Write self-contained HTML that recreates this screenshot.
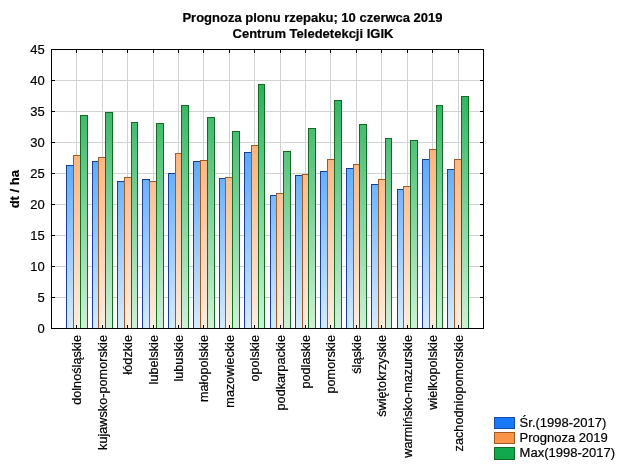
<!DOCTYPE html>
<html><head><meta charset="utf-8"><title>Prognoza plonu rzepaku</title>
<style>
html,body{margin:0;padding:0;background:#fff;}
body{width:624px;height:468px;overflow:hidden;}
svg{display:block;will-change:transform;font-family:"Liberation Sans",sans-serif;}
text{fill:#000;stroke:#000;stroke-width:0.2px;}
</style></head><body>
<svg width="624" height="468" viewBox="0 0 624 468">
<defs>
<linearGradient id="gb" gradientUnits="userSpaceOnUse" x1="0" y1="49" x2="0" y2="328.5"><stop offset="0" stop-color="#0e80fa"/><stop offset="1" stop-color="#d6ebfe"/></linearGradient>
<linearGradient id="go" gradientUnits="userSpaceOnUse" x1="0" y1="49" x2="0" y2="328.5"><stop offset="0" stop-color="#fa9448"/><stop offset="1" stop-color="#feede0"/></linearGradient>
<linearGradient id="gg" gradientUnits="userSpaceOnUse" x1="0" y1="49" x2="0" y2="328.5"><stop offset="0" stop-color="#10aa48"/><stop offset="1" stop-color="#d0f0d6"/></linearGradient>
</defs>
<rect x="0" y="0" width="624" height="468" fill="#ffffff"/>

<g shape-rendering="crispEdges" stroke="#d2d2d2" stroke-width="1">
<line x1="52" y1="297.5" x2="483" y2="297.5"/>
<line x1="52" y1="266.5" x2="483" y2="266.5"/>
<line x1="52" y1="235.5" x2="483" y2="235.5"/>
<line x1="52" y1="204.5" x2="483" y2="204.5"/>
<line x1="52" y1="173.5" x2="483" y2="173.5"/>
<line x1="52" y1="142.5" x2="483" y2="142.5"/>
<line x1="52" y1="111.5" x2="483" y2="111.5"/>
<line x1="52" y1="80.5" x2="483" y2="80.5"/>
<line x1="76.5" y1="50" x2="76.5" y2="328"/>
<line x1="102.5" y1="50" x2="102.5" y2="328"/>
<line x1="127.5" y1="50" x2="127.5" y2="328"/>
<line x1="153.5" y1="50" x2="153.5" y2="328"/>
<line x1="178.5" y1="50" x2="178.5" y2="328"/>
<line x1="203.5" y1="50" x2="203.5" y2="328"/>
<line x1="229.5" y1="50" x2="229.5" y2="328"/>
<line x1="254.5" y1="50" x2="254.5" y2="328"/>
<line x1="280.5" y1="50" x2="280.5" y2="328"/>
<line x1="305.5" y1="50" x2="305.5" y2="328"/>
<line x1="330.5" y1="50" x2="330.5" y2="328"/>
<line x1="356.5" y1="50" x2="356.5" y2="328"/>
<line x1="381.5" y1="50" x2="381.5" y2="328"/>
<line x1="407.5" y1="50" x2="407.5" y2="328"/>
<line x1="432.5" y1="50" x2="432.5" y2="328"/>
<line x1="458.5" y1="50" x2="458.5" y2="328"/>
</g>
<g shape-rendering="crispEdges" stroke-width="1">
<rect x="66.5" y="165.5" width="7" height="163" fill="url(#gb)" stroke="#183f96"/>
<rect x="73.5" y="155.5" width="7" height="173" fill="url(#go)" stroke="#a05a28"/>
<rect x="80.5" y="115.5" width="7" height="213" fill="url(#gg)" stroke="#126c22"/>
<rect x="92.5" y="161.5" width="6" height="167" fill="url(#gb)" stroke="#183f96"/>
<rect x="98.5" y="157.5" width="7" height="171" fill="url(#go)" stroke="#a05a28"/>
<rect x="105.5" y="112.5" width="7" height="216" fill="url(#gg)" stroke="#126c22"/>
<rect x="117.5" y="181.5" width="7" height="147" fill="url(#gb)" stroke="#183f96"/>
<rect x="124.5" y="177.5" width="7" height="151" fill="url(#go)" stroke="#a05a28"/>
<rect x="131.5" y="122.5" width="6" height="206" fill="url(#gg)" stroke="#126c22"/>
<rect x="142.5" y="179.5" width="7" height="149" fill="url(#gb)" stroke="#183f96"/>
<rect x="149.5" y="181.5" width="7" height="147" fill="url(#go)" stroke="#a05a28"/>
<rect x="156.5" y="123.5" width="7" height="205" fill="url(#gg)" stroke="#126c22"/>
<rect x="168.5" y="173.5" width="7" height="155" fill="url(#gb)" stroke="#183f96"/>
<rect x="175.5" y="153.5" width="6" height="175" fill="url(#go)" stroke="#a05a28"/>
<rect x="181.5" y="105.5" width="7" height="223" fill="url(#gg)" stroke="#126c22"/>
<rect x="193.5" y="161.5" width="7" height="167" fill="url(#gb)" stroke="#183f96"/>
<rect x="200.5" y="160.5" width="7" height="168" fill="url(#go)" stroke="#a05a28"/>
<rect x="207.5" y="117.5" width="7" height="211" fill="url(#gg)" stroke="#126c22"/>
<rect x="219.5" y="178.5" width="6" height="150" fill="url(#gb)" stroke="#183f96"/>
<rect x="225.5" y="177.5" width="7" height="151" fill="url(#go)" stroke="#a05a28"/>
<rect x="232.5" y="131.5" width="7" height="197" fill="url(#gg)" stroke="#126c22"/>
<rect x="244.5" y="152.5" width="7" height="176" fill="url(#gb)" stroke="#183f96"/>
<rect x="251.5" y="145.5" width="7" height="183" fill="url(#go)" stroke="#a05a28"/>
<rect x="258.5" y="84.5" width="6" height="244" fill="url(#gg)" stroke="#126c22"/>
<rect x="270.5" y="195.5" width="6" height="133" fill="url(#gb)" stroke="#183f96"/>
<rect x="276.5" y="193.5" width="7" height="135" fill="url(#go)" stroke="#a05a28"/>
<rect x="283.5" y="151.5" width="7" height="177" fill="url(#gg)" stroke="#126c22"/>
<rect x="295.5" y="175.5" width="7" height="153" fill="url(#gb)" stroke="#183f96"/>
<rect x="302.5" y="174.5" width="6" height="154" fill="url(#go)" stroke="#a05a28"/>
<rect x="308.5" y="128.5" width="7" height="200" fill="url(#gg)" stroke="#126c22"/>
<rect x="320.5" y="171.5" width="7" height="157" fill="url(#gb)" stroke="#183f96"/>
<rect x="327.5" y="159.5" width="7" height="169" fill="url(#go)" stroke="#a05a28"/>
<rect x="334.5" y="100.5" width="7" height="228" fill="url(#gg)" stroke="#126c22"/>
<rect x="346.5" y="168.5" width="7" height="160" fill="url(#gb)" stroke="#183f96"/>
<rect x="353.5" y="164.5" width="6" height="164" fill="url(#go)" stroke="#a05a28"/>
<rect x="359.5" y="124.5" width="7" height="204" fill="url(#gg)" stroke="#126c22"/>
<rect x="371.5" y="184.5" width="7" height="144" fill="url(#gb)" stroke="#183f96"/>
<rect x="378.5" y="179.5" width="7" height="149" fill="url(#go)" stroke="#a05a28"/>
<rect x="385.5" y="138.5" width="6" height="190" fill="url(#gg)" stroke="#126c22"/>
<rect x="397.5" y="189.5" width="6" height="139" fill="url(#gb)" stroke="#183f96"/>
<rect x="403.5" y="186.5" width="7" height="142" fill="url(#go)" stroke="#a05a28"/>
<rect x="410.5" y="140.5" width="7" height="188" fill="url(#gg)" stroke="#126c22"/>
<rect x="422.5" y="159.5" width="7" height="169" fill="url(#gb)" stroke="#183f96"/>
<rect x="429.5" y="149.5" width="7" height="179" fill="url(#go)" stroke="#a05a28"/>
<rect x="436.5" y="105.5" width="6" height="223" fill="url(#gg)" stroke="#126c22"/>
<rect x="447.5" y="169.5" width="7" height="159" fill="url(#gb)" stroke="#183f96"/>
<rect x="454.5" y="159.5" width="7" height="169" fill="url(#go)" stroke="#a05a28"/>
<rect x="461.5" y="96.5" width="7" height="232" fill="url(#gg)" stroke="#126c22"/>
</g>
<g shape-rendering="crispEdges" stroke="#000" stroke-width="1" fill="none">
<rect x="51.5" y="49.5" width="432" height="279"/>
<line x1="52" y1="297.5" x2="55" y2="297.5"/>
<line x1="480" y1="297.5" x2="483" y2="297.5"/>
<line x1="52" y1="266.5" x2="55" y2="266.5"/>
<line x1="480" y1="266.5" x2="483" y2="266.5"/>
<line x1="52" y1="235.5" x2="55" y2="235.5"/>
<line x1="480" y1="235.5" x2="483" y2="235.5"/>
<line x1="52" y1="204.5" x2="55" y2="204.5"/>
<line x1="480" y1="204.5" x2="483" y2="204.5"/>
<line x1="52" y1="173.5" x2="55" y2="173.5"/>
<line x1="480" y1="173.5" x2="483" y2="173.5"/>
<line x1="52" y1="142.5" x2="55" y2="142.5"/>
<line x1="480" y1="142.5" x2="483" y2="142.5"/>
<line x1="52" y1="111.5" x2="55" y2="111.5"/>
<line x1="480" y1="111.5" x2="483" y2="111.5"/>
<line x1="52" y1="80.5" x2="55" y2="80.5"/>
<line x1="480" y1="80.5" x2="483" y2="80.5"/>
<line x1="76.5" y1="50" x2="76.5" y2="53"/>
<line x1="76.5" y1="325" x2="76.5" y2="328"/>
<line x1="102.5" y1="50" x2="102.5" y2="53"/>
<line x1="102.5" y1="325" x2="102.5" y2="328"/>
<line x1="127.5" y1="50" x2="127.5" y2="53"/>
<line x1="127.5" y1="325" x2="127.5" y2="328"/>
<line x1="153.5" y1="50" x2="153.5" y2="53"/>
<line x1="153.5" y1="325" x2="153.5" y2="328"/>
<line x1="178.5" y1="50" x2="178.5" y2="53"/>
<line x1="178.5" y1="325" x2="178.5" y2="328"/>
<line x1="203.5" y1="50" x2="203.5" y2="53"/>
<line x1="203.5" y1="325" x2="203.5" y2="328"/>
<line x1="229.5" y1="50" x2="229.5" y2="53"/>
<line x1="229.5" y1="325" x2="229.5" y2="328"/>
<line x1="254.5" y1="50" x2="254.5" y2="53"/>
<line x1="254.5" y1="325" x2="254.5" y2="328"/>
<line x1="280.5" y1="50" x2="280.5" y2="53"/>
<line x1="280.5" y1="325" x2="280.5" y2="328"/>
<line x1="305.5" y1="50" x2="305.5" y2="53"/>
<line x1="305.5" y1="325" x2="305.5" y2="328"/>
<line x1="330.5" y1="50" x2="330.5" y2="53"/>
<line x1="330.5" y1="325" x2="330.5" y2="328"/>
<line x1="356.5" y1="50" x2="356.5" y2="53"/>
<line x1="356.5" y1="325" x2="356.5" y2="328"/>
<line x1="381.5" y1="50" x2="381.5" y2="53"/>
<line x1="381.5" y1="325" x2="381.5" y2="328"/>
<line x1="407.5" y1="50" x2="407.5" y2="53"/>
<line x1="407.5" y1="325" x2="407.5" y2="328"/>
<line x1="432.5" y1="50" x2="432.5" y2="53"/>
<line x1="432.5" y1="325" x2="432.5" y2="328"/>
<line x1="458.5" y1="50" x2="458.5" y2="53"/>
<line x1="458.5" y1="325" x2="458.5" y2="328"/>
</g>
<g font-weight="bold" font-size="13px" text-anchor="middle" stroke-width="0.08"><text x="312.5" y="22">Prognoza plonu rzepaku; 10 czerwca 2019</text><text x="313" y="38">Centrum Teledetekcji IGIK</text></g>
<g font-size="13px" text-anchor="end">
<text x="44.8" y="333.1">0</text>
<text x="44.8" y="302.1">5</text>
<text x="44.8" y="271.1">10</text>
<text x="44.8" y="240.1">15</text>
<text x="44.8" y="209.1">20</text>
<text x="44.8" y="178.1">25</text>
<text x="44.8" y="147.1">30</text>
<text x="44.8" y="116.1">35</text>
<text x="44.8" y="85.1">40</text>
<text x="44.8" y="54.1">45</text>
</g>
<text font-weight="bold" font-size="13px" text-anchor="middle" stroke-width="0.08" transform="translate(18.8,189.2) rotate(-90)">dt / ha</text>
<g font-size="12.7px" text-anchor="end">
<text transform="translate(80.5,335) rotate(-90)">dolnośląskie</text>
<text transform="translate(106.5,335) rotate(-90)">kujawsko-pomorskie</text>
<text transform="translate(131.5,335) rotate(-90)">łódzkie</text>
<text transform="translate(157.5,335) rotate(-90)">lubelskie</text>
<text transform="translate(182.5,335) rotate(-90)">lubuskie</text>
<text transform="translate(207.5,335) rotate(-90)">małopolskie</text>
<text transform="translate(233.5,335) rotate(-90)">mazowieckie</text>
<text transform="translate(258.5,335) rotate(-90)">opolskie</text>
<text transform="translate(284.5,335) rotate(-90)">podkarpackie</text>
<text transform="translate(309.5,335) rotate(-90)">podlaskie</text>
<text transform="translate(334.5,335) rotate(-90)">pomorskie</text>
<text transform="translate(360.5,335) rotate(-90)">śląskie</text>
<text transform="translate(385.5,335) rotate(-90)">świętokrzyskie</text>
<text transform="translate(411.5,335) rotate(-90)">warmińsko-mazurskie</text>
<text transform="translate(436.5,335) rotate(-90)">wielkopolskie</text>
<text transform="translate(462.5,335) rotate(-90)">zachodniopomorskie</text>
</g>
<g shape-rendering="crispEdges" stroke-width="1">
<rect x="494.5" y="417.5" width="20" height="11" fill="#1a78fa" stroke="#1848a8"/>
<rect x="494.5" y="432.5" width="20" height="11" fill="#fa9448" stroke="#a05a28"/>
<rect x="494.5" y="447.5" width="20" height="12" fill="#12a84e" stroke="#126c22"/>
</g>
<g font-size="13px"><text x="519.6" y="427">Śr.(1998-2017)</text><text x="519.6" y="441.8">Prognoza 2019</text><text x="519.6" y="457.2">Max(1998-2017)</text></g>
</svg></body></html>
